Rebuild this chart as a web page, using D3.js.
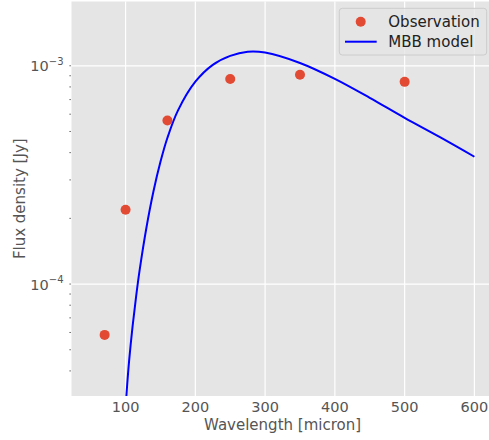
<!DOCTYPE html>
<html>
<head>
<meta charset="utf-8">
<script src="https://cdn.jsdelivr.net/npm/d3@7"></script>
<style>
  html, body { margin: 0; padding: 0; background: #ffffff; }
  svg { display: block; font-family: "DejaVu Sans", sans-serif; }
</style>
</head>
<body>
<svg id="chart" width="489" height="440"></svg>
<script>
// Observed photometry
const obsWavelength = [70, 100, 160, 250, 350, 500];
const obsFlux = [5.85e-5, 2.19e-4, 5.61e-4, 8.69e-4, 9.09e-4, 8.44e-4];

// MBB model curve
const modelWavelength = [100, 102, 105, 110, 115, 120, 130, 140, 150, 160, 175, 200, 225, 250, 275, 300, 350, 400, 450, 500, 550, 600];
const modelFlux = [2.72e-5, 3.35e-5, 4.42e-5, 6.38e-5, 8.71e-5, 1.148e-4, 1.82e-4, 2.66e-4, 3.63e-4, 4.68e-4, 6.23e-4, 8.45e-4, 1.01e-3, 1.11e-3, 1.16e-3, 1.15e-3, 1.03e-3, 8.71e-4, 7.13e-4, 5.77e-4, 4.72e-4, 3.83e-4];

// Axis ticks
const xTicks = [100, 200, 300, 400, 500, 600];
const yMajorTicks = [1e-4, 1e-3];
const yMajorExp = ["\u22124", "\u22123"];
const xDomain = [22.5, 627.5];
const yDomain = [3.07e-5, 1.97e-3];

const legendLabels = ["Observation", "MBB model"];
const xLabel = "Wavelength [micron]";
const yLabel = "Flux density [Jy]";

const L = 71.5, R = 493.6, T = 1.5, B = 396;
const svg = d3.select("#chart");

const x = d3.scaleLinear().domain(xDomain).range([L, R]);
const y = d3.scaleLog().domain(yDomain).range([B, T]);

// background
svg.append("rect").attr("x", L).attr("y", T).attr("width", R - L).attr("height", B - T).attr("fill", "#E5E5E5");

svg.append("clipPath").attr("id", "clip").append("rect")
  .attr("x", L).attr("y", T).attr("width", R - L).attr("height", B - T);

// grid
const grid = svg.append("g");
grid.selectAll("line.gx").data(xTicks).join("line")
  .attr("x1", d => x(d)).attr("x2", d => x(d)).attr("y1", T).attr("y2", B)
  .attr("stroke", "#ffffff").attr("stroke-width", 1.2);
grid.selectAll("line.gy").data(yMajorTicks).join("line")
  .attr("x1", L).attr("x2", R).attr("y1", d => y(d)).attr("y2", d => y(d))
  .attr("stroke", "#ffffff").attr("stroke-width", 1.2);

// minor ticks on y (tiny dots left of axis)
const minorTicks = [];
for (let e = -5; e <= -3; e++) {
  for (let m = 1; m <= 9; m++) {
    const v = m * Math.pow(10, e);
    if (v >= yDomain[0] && v <= yDomain[1]) minorTicks.push(v);
  }
}
svg.append("g").selectAll("line").data(minorTicks).join("line")
  .attr("x1", L - 2.2).attr("x2", L - 0.5)
  .attr("y1", d => y(d)).attr("y2", d => y(d))
  .attr("stroke", "#777777").attr("stroke-width", 1);

// x tick labels
svg.append("g").selectAll("text").data(xTicks).join("text")
  .attr("x", d => x(d)).attr("y", 412)
  .attr("text-anchor", "middle").attr("font-size", 14.5).attr("fill", "#555555")
  .text(d => d);

// y tick labels
const yl = svg.append("g").selectAll("text").data(yMajorTicks).join("text")
  .attr("x", 63.5).attr("y", d => y(d) + 5.6)
  .attr("text-anchor", "end").attr("font-size", 14.5).attr("fill", "#555555");
yl.append("tspan").text("10");
yl.append("tspan").attr("font-size", 10).attr("dy", -6.5).text((d, i) => yMajorExp[i]);

// axis labels
svg.append("text").attr("x", (L + R) / 2).attr("y", 430)
  .attr("text-anchor", "middle").attr("font-size", 15).attr("fill", "#555555").text(xLabel);
svg.append("text").attr("transform", `translate(24.5,${(T + B) / 2}) rotate(-90)`)
  .attr("text-anchor", "middle").attr("font-size", 15).attr("fill", "#555555").text(yLabel);

// model line
const line = d3.line().x((d, i) => x(modelWavelength[i])).y(d => y(d)).curve(d3.curveCatmullRom.alpha(0.5));
svg.append("path").datum(modelFlux)
  .attr("clip-path", "url(#clip)")
  .attr("d", line).attr("fill", "none").attr("stroke", "#0000FF").attr("stroke-width", 2);

// observation points
svg.append("g").attr("clip-path", "url(#clip)").selectAll("circle").data(obsFlux).join("circle")
  .attr("cx", (d, i) => x(obsWavelength[i])).attr("cy", d => y(d)).attr("r", 5)
  .attr("fill", "#E24A33");

// legend
const lg = svg.append("g");
lg.append("rect").attr("x", 339.3).attr("y", 8.3).attr("width", 147.4).attr("height", 46.7)
  .attr("rx", 3).attr("fill", "#E5E5E5").attr("fill-opacity", 0.8)
  .attr("stroke", "#CCCCCC").attr("stroke-width", 1);
lg.append("circle").attr("cx", 360.7).attr("cy", 21.7).attr("r", 5).attr("fill", "#E24A33");
lg.append("line").attr("x1", 345).attr("x2", 376.7).attr("y1", 41.7).attr("y2", 41.7)
  .attr("stroke", "#0000FF").attr("stroke-width", 2);
lg.selectAll("text").data(legendLabels).join("text")
  .attr("x", 388.3).attr("y", (d, i) => 21.7 + i * 20 + 5.3)
  .attr("font-size", 15).attr("fill", "#222222").text(d => d);
</script>
</body>
</html>
